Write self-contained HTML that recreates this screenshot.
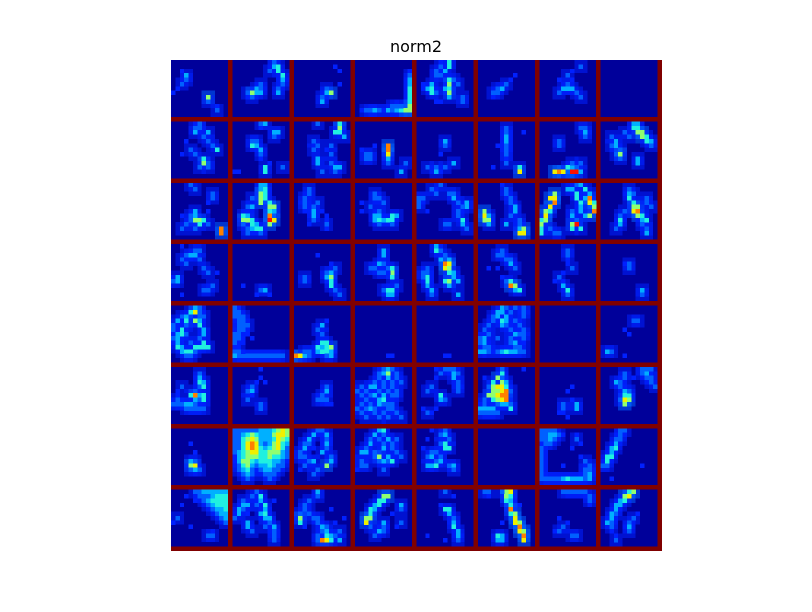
<!DOCTYPE html>
<html><head><meta charset="utf-8"><style>
html,body{margin:0;padding:0;background:#fff;width:812px;height:612px;overflow:hidden}
#title{position:absolute;left:0;width:832px;top:37px;text-align:center;font:16px "DejaVu Sans","Liberation Sans",sans-serif;color:#000}
#grid{position:absolute;left:171px;top:60px}
</style></head><body>
<div id="title">norm2</div>
<svg id="grid" width="491" height="491" viewBox="0 0 112 112" shape-rendering="crispEdges"></svg>
<script>
// Per-tile bright cells: "row,col,level" (level 0-9 on jet scale); unlisted cells are background.
const tileRows = 8;
const tileCols = 8;
const cellsPerTile = 13;
const levelColors = ["#00009a","#0000c8","#0020ff","#0060ff","#00b0ff","#20f0e0","#90ff70","#f0f000","#ff8000","#ff1000"];
const tiles = [
"3,3,4 4,3,3 5,2,3 6,1,2 8,8,6 9,8,3 10,10,2 11,10,3 2,2,2 7,0,2",
"0,9,3 1,9,4 1,10,5 2,10,5 3,11,5 4,11,4 2,8,3 5,6,3 6,5,4 6,6,3 7,3,3 7,4,6 7,5,4 7,6,4 8,4,3 8,3,2 6,10,3 7,10,4 5,11,3",
"1,9,2 2,10,2 6,7,3 7,7,4 7,8,6 8,6,3 9,6,4 5,10,2",
"11,1,2 11,2,3 11,3,3 11,4,4 11,5,3 11,6,2 11,7,4 11,8,3 11,9,4 11,10,5 11,11,6 10,8,3 10,9,3 10,10,3 3,12,3 4,12,4 5,12,4 6,12,5 7,12,5 8,12,5 9,12,5 10,12,6 11,12,6 2,12,2",
"0,7,5 1,7,5 2,6,4 3,5,3 4,7,5 5,7,6 6,6,4 6,7,5 7,7,6 8,7,4 5,3,4 6,3,5 7,3,5 6,2,4 7,4,3 4,8,3 5,9,3 8,10,3 9,10,3 1,5,3 2,4,3 3,4,3 0,5,2 5,1,2 6,1,2 9,4,2 9,5,2",
"5,6,3 6,4,3 6,5,4 7,3,3 7,4,3 8,3,2 4,7,2 3,8,2",
"1,9,3 2,7,2 3,6,3 4,7,2 5,6,3 6,5,4 6,6,4 6,7,4 7,4,3 7,8,3 8,9,3 4,4,2",
"",
"0,6,3 1,5,3 1,6,3 2,5,4 2,8,4 3,7,3 4,3,2 4,8,3 5,9,3 6,4,3 6,10,5 7,5,3 8,7,5 9,7,6 9,8,3 10,6,3 10,8,3 7,2,2",
"0,6,3 0,7,4 1,6,2 2,9,4 2,10,4 3,9,3 4,4,3 5,4,5 5,5,4 4,5,3 6,6,4 7,6,3 8,6,2 9,8,2 10,7,5 11,7,5 11,0,2 11,1,2 10,11,3",
"0,5,3 0,10,5 1,10,6 2,9,5 2,10,5 3,11,4 4,4,3 5,5,3 6,4,3 6,7,2 8,5,4 9,5,4 9,8,3 10,9,4 10,10,4 11,9,3 7,8,3 5,8,3 11,6,3",
"5,7,8 6,7,8 7,7,7 8,7,4 9,7,3 7,2,3 8,2,3 7,3,3 8,3,3 6,1,2 11,10,4 9,11,3 5,4,2",
"4,6,4 5,6,3 9,8,4 10,2,3 10,4,3 10,6,3 11,4,4 11,5,2 7,5,2",
"1,6,3 2,6,3 3,6,4 4,6,4 5,6,3 6,6,3 7,6,3 8,6,2 9,6,3 10,9,5 11,9,7 2,10,2 5,4,2 10,3,2",
"1,9,3 1,10,3 2,10,4 3,10,3 4,4,3 5,4,3 10,6,5 11,3,7 11,4,8 11,5,7 11,6,3 11,7,9 11,8,9 11,9,4 10,7,4 10,8,3 9,7,3 9,9,3",
"0,7,4 0,8,4 1,7,5 1,8,5 2,8,6 2,9,6 3,9,6 3,10,5 4,10,5 4,11,4 5,11,3 3,6,3 4,3,4 5,2,3 5,3,4 6,4,3 7,3,3 7,4,6 8,4,3 8,8,4 9,8,4 3,2,3 2,5,3",
"0,4,3 1,5,3 2,9,3 3,9,3 4,8,2 6,5,4 7,5,4 7,4,3 8,4,3 8,5,6 8,6,6 8,7,5 9,6,5 9,8,3 10,2,3 10,11,8 11,11,8 7,2,2 6,8,2 9,3,3 10,5,3",
"0,6,4 0,7,4 1,6,4 1,7,5 2,6,6 2,7,5 3,6,6 3,7,5 4,6,6 4,8,5 5,4,4 5,8,6 5,9,6 6,8,5 6,9,4 7,8,8 8,8,9 8,9,7 9,8,6 7,2,5 8,2,6 8,3,6 8,4,5 9,4,5 10,4,4 10,5,5 10,6,5 9,5,4 10,3,3 5,3,3 3,4,3 7,3,4 9,2,3 11,3,3 11,6,3",
"1,3,3 2,3,3 3,2,3 4,2,3 5,2,3 6,2,2 4,5,3 5,4,3 6,4,4 7,4,4 8,4,3 6,6,2 7,7,2 8,7,2 9,7,3 10,7,2 9,3,2",
"2,4,3 3,4,3 3,5,3 4,6,3 5,3,3 6,5,3 7,4,4 7,5,4 8,4,4 8,5,5 8,6,4 8,7,5 8,8,5 7,8,5 7,9,4 9,5,3 9,8,3 6,1,2 4,1,2",
"0,5,3 1,3,3 1,4,2 2,4,3 2,7,3 3,8,4 2,8,3 3,0,3 4,0,3 5,0,3 3,1,3 4,9,3 5,11,4 4,11,4 5,10,3 6,9,3 7,9,3 8,10,5 9,10,4 9,6,3 9,7,3 10,11,3 6,2,2",
"0,5,2 1,6,3 2,6,3 3,7,3 4,7,3 5,8,4 6,8,4 6,1,6 7,1,7 8,1,6 8,2,6 9,2,4 7,2,4 9,6,4 10,9,4 10,10,6 11,9,7 11,10,7 7,7,3 8,9,3 9,9,3",
"0,8,3 1,7,4 1,6,4 2,3,6 3,3,7 3,2,7 4,3,8 5,2,7 6,1,6 6,2,5 7,1,7 8,1,6 8,0,5 9,0,6 10,0,5 11,0,5 2,8,5 3,8,5 4,9,5 5,9,4 3,10,4 3,11,8 4,11,7 4,12,5 6,12,8 5,12,6 7,11,6 8,8,3 9,7,6 9,8,9 10,7,5 10,9,5 11,4,3 11,3,3 10,2,3 6,7,3 7,7,4 6,9,4 7,10,4 1,10,5 0,9,4 2,11,4",
"1,6,3 2,7,3 2,6,4 3,6,5 4,7,5 5,7,6 5,8,6 6,7,7 6,8,8 7,8,6 7,9,5 8,9,4 8,10,5 9,9,3 6,5,3 7,4,3 8,4,5 9,4,4 10,3,3 10,10,3 11,10,4 4,10,3 3,10,3 5,11,3",
"0,2,2 1,5,3 1,6,3 2,3,3 2,4,4 2,5,4 3,6,3 3,2,3 4,3,3 5,7,3 6,8,3 7,1,4 8,1,4 8,0,3 9,9,3 10,7,3 10,8,3 11,2,2 6,10,2",
"10,6,3 10,7,4 11,5,2 9,2,2 11,8,2",
"6,7,3 6,8,4 7,7,4 7,8,6 8,8,5 9,8,5 10,9,3 7,2,3 8,2,3 5,9,3 11,10,3 4,8,2 2,5,2",
"1,6,4 2,6,4 4,5,4 4,6,3 5,4,3 5,3,3 6,5,3 5,7,3 5,8,5 6,8,6 7,8,5 6,6,3 6,7,2 10,7,5 10,8,5 11,8,4 11,7,4 10,6,3 9,9,3",
"0,4,4 1,4,5 1,5,3 2,6,3 3,5,4 3,7,4 4,6,8 4,7,7 5,6,7 5,7,6 6,7,5 6,8,4 7,8,4 8,9,4 8,6,5 8,7,6 9,7,4 5,2,3 6,2,3 7,2,5 8,2,5 9,2,4 10,3,4 11,3,3 11,9,4 7,1,3 6,1,3",
"1,5,3 2,5,3 2,4,3 3,6,3 3,7,3 4,7,4 5,8,3 5,4,2 5,2,2 8,6,3 8,7,5 9,7,8 9,8,6 10,8,4 10,9,5 7,5,2",
"1,6,3 2,6,3 3,6,2 4,6,2 5,7,3 6,5,2 7,4,3 8,5,2 8,3,2 9,5,4 10,6,5 11,6,3",
"4,5,2 5,6,3 4,6,3 10,9,4 11,9,3",
"0,5,4 1,4,5 1,5,7 2,2,3 2,3,4 3,1,4 3,3,5 3,5,6 3,6,4 4,6,5 5,2,5 5,7,4 6,1,4 6,2,5 6,3,3 6,7,4 7,0,3 7,1,4 7,6,3 8,1,4 8,4,3 8,7,5 9,1,5 9,2,4 9,5,5 9,6,5 9,7,5 9,8,5 10,2,4 10,3,5 10,4,5 10,5,3 11,3,3 11,4,3 2,6,3 0,6,3 1,6,3 4,0,3 5,0,3 2,7,3 4,3,3",
"0,0,3 0,1,2 1,0,3 1,1,3 2,0,3 2,1,3 2,2,3 3,1,3 3,2,3 4,1,3 4,2,3 4,3,3 5,1,3 5,2,3 6,0,3 6,1,3 7,0,3 7,1,3 7,2,2 8,0,3 8,1,2 9,0,2 10,0,3 10,1,3 11,0,4 11,1,3 11,2,3 11,3,3 11,4,3 11,5,3 11,6,3 11,7,3 11,8,3 11,9,3 11,10,3 11,11,3 10,2,2 6,3,2 5,3,2 8,2,2 9,1,2 7,4,2",
"4,6,4 5,5,3 6,6,3 9,6,4 9,7,5 9,8,6 8,6,5 8,7,5 9,5,5 10,5,4 10,6,5 10,7,5 10,8,4 11,0,8 11,1,7 11,2,4 11,3,3 10,2,3 10,3,3 11,7,3 11,8,4 3,7,2",
"11,7,2 11,8,2",
"11,6,2 11,7,2",
"0,5,4 1,4,4 1,5,4 0,6,3 1,7,3 2,3,3 2,4,4 2,6,4 3,3,3 3,5,5 3,6,4 4,2,3 4,5,4 4,6,3 5,1,3 5,7,3 6,2,3 6,8,4 6,9,3 7,0,3 7,1,4 7,4,3 7,7,3 8,0,3 8,1,4 8,7,3 8,8,4 9,1,3 9,2,3 9,8,3 9,9,3 10,0,4 10,1,4 10,2,3 10,3,2 10,4,3 10,5,4 10,6,5 10,7,4 10,8,4 10,9,3 10,10,3 0,8,3 0,9,2 0,10,3 1,10,3 2,10,3 3,8,3 3,9,2 4,9,3 5,10,3 6,10,3 7,10,3 8,10,2",
"",
"3,7,3 3,8,3 5,5,2 6,6,2 10,1,4 10,2,3 11,5,2",
"1,6,3 2,6,4 3,6,5 3,7,4 4,2,3 4,6,3 4,7,5 5,1,2 5,5,3 6,4,5 6,5,8 6,6,4 6,7,5 7,5,4 7,6,3 7,7,5 8,0,3 8,1,3 8,2,3 8,3,4 8,4,4 8,5,3 9,3,3 9,4,3 9,5,3 9,6,3 9,7,3 7,1,3 7,2,2 6,1,2",
"3,5,2 4,4,3 5,4,4 5,3,3 6,4,2 7,3,3 8,6,3 9,6,3 2,6,2 3,7,2 0,6,2",
"4,7,3 5,7,4 6,6,3 7,5,3 7,6,3 7,7,3 8,7,2 8,8,2",
"0,6,3 0,7,4 0,8,3 1,6,4 1,7,6 1,5,3 2,5,3 2,7,4 3,4,3 3,6,3 3,8,3 4,1,3 4,3,4 4,4,4 4,6,3 4,8,3 5,0,3 5,2,3 5,5,3 5,7,3 5,9,3 6,1,3 6,3,3 6,4,4 6,6,4 6,8,3 6,9,3 7,2,3 7,5,4 7,6,5 8,1,3 8,3,3 8,5,4 8,6,3 8,7,3 8,8,3 9,0,3 9,2,3 9,3,4 9,4,3 9,7,3 9,8,3 10,1,3 10,4,3 10,6,3 10,9,3 11,2,3 11,5,3 11,7,3 11,10,3 2,9,3 3,10,3 1,9,3",
"0,4,2 0,6,3 0,7,3 0,8,3 1,5,3 1,8,4 1,9,3 2,8,4 3,9,3 2,4,2 4,3,3 4,9,3 5,9,3 6,5,5 7,5,4 7,6,3 9,4,2 10,2,3 10,3,2 9,1,2 5,2,3",
"0,5,3 1,5,5 2,4,6 3,5,6 4,5,7 4,3,6 4,4,7 3,3,5 5,3,6 5,4,6 5,5,7 5,6,8 6,2,6 6,3,6 6,4,7 6,5,8 6,6,8 7,3,5 7,4,6 7,5,7 7,6,8 8,4,3 8,5,4 8,6,4 8,7,3 9,0,4 9,1,4 9,2,4 9,3,4 9,7,5 10,0,3 10,1,3 10,2,3 10,3,3 10,4,3 4,2,3 2,5,3 3,6,4 4,6,5 5,7,3 0,10,2 2,1,2 8,1,3 7,1,3",
"4,7,2 5,6,2 8,5,3 9,5,3 8,8,4 9,8,4 10,4,2 10,5,2 11,6,2 7,7,2",
"0,9,3 0,10,3 0,11,3 1,9,3 1,10,4 2,10,3 2,11,3 3,11,3 4,12,3 1,5,3 2,5,3 3,3,4 3,4,3 4,4,3 5,5,4 6,5,5 7,5,7 7,6,6 8,5,6 6,6,5 5,6,3 7,4,3 2,7,2",
"3,4,2 5,5,2 7,4,4 8,4,6 8,5,7 9,5,4 9,6,3 9,4,3 7,5,3",
"0,0,3 0,1,3 0,2,3 0,3,3 0,4,3 0,5,3 0,6,4 0,7,4 0,8,4 0,9,5 0,10,6 0,11,7 0,12,6 1,0,3 1,1,3 1,2,4 1,3,5 1,4,6 1,5,5 1,6,4 1,7,4 1,8,4 1,9,6 1,10,7 1,11,7 1,12,6 2,0,3 2,1,3 2,2,5 2,3,6 2,4,7 2,5,6 2,6,4 2,7,4 2,8,4 2,9,5 2,10,7 2,11,6 2,12,5 3,0,3 3,1,3 3,2,5 3,3,7 3,4,8 3,5,7 3,6,4 3,7,3 3,8,4 3,9,6 3,10,7 3,11,5 3,12,4 4,0,3 4,1,3 4,2,5 4,3,7 4,4,8 4,5,7 4,6,5 4,7,4 4,8,5 4,9,6 4,10,7 4,11,5 4,12,3 5,0,3 5,1,4 5,2,5 5,3,6 5,4,7 5,5,7 5,6,5 5,7,5 5,8,6 5,9,6 5,10,6 5,11,4 5,12,3 6,0,2 6,1,4 6,2,5 6,3,6 6,4,6 6,5,6 6,6,5 6,7,5 6,8,6 6,9,5 6,10,5 6,11,4 6,12,3 7,0,2 7,1,4 7,2,6 7,3,6 7,4,5 7,5,4 7,6,5 7,7,5 7,8,5 7,9,4 7,10,4 7,11,3 8,1,3 8,2,5 8,3,6 8,4,4 8,5,3 8,6,4 8,7,4 8,8,5 8,9,4 8,10,3 8,11,3 9,1,3 9,2,4 9,3,5 9,4,3 9,6,3 9,7,4 9,8,4 9,9,3 9,10,3 10,2,3 10,3,4 10,4,3 10,7,3 10,8,3 10,9,3 11,3,3 11,8,3 11,9,2",
"0,5,3 0,6,3 1,4,4 1,7,4 2,3,4 2,7,3 3,2,3 3,3,3 3,7,4 4,2,4 4,7,3 5,1,3 5,6,4 6,1,3 6,2,3 6,8,3 7,3,3 7,4,4 7,8,4 8,2,3 8,7,6 9,1,2 9,5,3 10,4,3 4,4,2",
"0,5,4 0,6,5 1,4,4 1,6,3 2,3,3 2,5,3 2,7,4 3,3,4 3,6,3 4,2,3 4,6,4 4,8,3 5,1,4 5,2,4 5,4,3 6,4,3 6,5,6 6,7,4 7,1,3 7,5,3 7,6,4 7,7,3 7,8,5 8,1,3 8,2,3 9,0,2 9,6,3 3,8,3 2,9,3 5,9,3 6,10,3",
"0,6,3 1,6,4 1,5,3 2,7,3 3,5,3 3,6,5 4,6,5 4,7,5 5,3,3 5,4,3 6,2,3 6,3,4 6,5,3 7,4,3 7,5,4 8,2,4 8,3,4 8,4,5 8,7,3 8,8,4 9,8,3 2,2,2 4,1,2 0,3,2",
"",
"0,0,3 0,1,3 0,2,3 0,3,3 1,0,3 1,1,3 1,2,4 1,3,4 1,4,3 2,0,3 2,1,3 2,2,4 2,3,3 3,0,2 3,1,3 3,2,3 4,0,3 5,0,3 6,0,3 7,0,3 8,0,3 9,0,3 10,0,3 11,0,3 11,1,3 11,2,3 11,3,3 11,4,3 11,5,4 11,6,5 11,7,4 11,8,4 11,9,4 11,10,3 11,11,4 10,11,4 9,11,3 8,11,3 7,10,3 6,9,2 3,9,2 2,8,3 1,8,2 4,7,2 8,5,2 10,10,3 9,10,3 1,5,2",
"0,4,3 0,5,3 1,4,3 2,3,3 2,4,3 3,3,4 4,2,4 4,3,5 5,2,4 6,1,5 6,2,5 7,1,5 8,0,3 8,1,3 11,2,2 8,9,2",
"0,5,3 0,6,3 0,7,4 0,8,4 0,9,4 0,10,4 0,11,4 0,12,4 1,6,3 1,7,3 1,8,3 1,9,4 1,10,5 1,11,5 1,12,5 2,7,3 2,8,4 2,9,5 2,10,5 2,11,5 2,12,5 3,8,3 3,9,4 3,10,5 3,11,5 3,12,5 4,9,3 4,10,4 4,11,4 4,12,5 5,10,3 5,11,4 5,12,4 6,11,3 6,12,4 7,12,3 1,3,2 3,2,2 6,1,3 7,0,2 10,9,3 10,8,3 9,9,2 8,4,2 2,5,2",
"0,5,3 1,4,3 1,6,5 2,6,4 2,2,3 3,2,4 3,3,4 3,5,3 3,7,5 4,1,4 4,2,3 4,7,4 5,1,4 5,6,4 5,7,5 6,0,3 6,7,4 6,8,4 7,3,4 7,8,3 8,3,4 8,7,3 8,9,4 9,9,3 10,9,3 11,9,3 9,4,3 5,3,2 2,9,2",
"0,5,4 1,5,3 2,3,3 3,2,3 4,2,3 5,1,3 5,3,3 6,1,6 7,1,5 6,4,3 6,5,3 7,5,3 8,6,4 8,7,3 9,6,3 9,7,4 10,7,5 10,8,4 11,7,7 11,6,8 11,8,5 11,5,3 10,5,3 8,2,2 10,9,3 9,10,3 11,10,4 7,9,2 6,11,2 4,8,2",
"1,6,6 1,7,6 2,5,5 2,6,5 3,4,4 3,5,5 4,3,5 4,4,4 5,3,5 6,3,6 6,2,6 7,2,7 8,3,3 8,6,3 7,6,4 9,5,4 9,6,3 10,4,3 3,10,4 4,10,3 5,8,2 8,9,2 7,10,3",
"0,6,3 4,6,5 4,7,5 5,7,4 6,8,3 7,8,4 8,8,5 9,9,4 10,9,4 11,9,3 1,8,2 3,5,2 10,2,2 11,6,2",
"0,6,6 0,7,7 1,6,6 1,7,5 2,6,5 2,7,4 3,7,5 4,7,8 5,8,6 5,7,5 6,8,7 7,8,7 7,9,6 8,9,8 9,9,7 9,10,6 10,10,8 11,10,7 10,4,5 11,4,4 11,5,4 10,5,4 0,1,3 0,2,3 1,2,2 0,5,3 7,5,2 3,9,2",
"0,5,3 0,6,3 0,7,3 0,8,3 0,9,3 0,10,3 1,11,3 2,11,3 3,11,2 8,5,3 9,4,3 10,8,3 10,7,3 9,3,2 6,4,2 7,6,2",
"0,6,5 0,7,6 1,5,6 1,6,7 2,4,4 2,5,5 3,3,4 3,4,4 4,3,4 5,2,4 5,3,3 6,2,4 7,1,4 7,2,3 8,2,3 6,7,3 7,6,3 8,6,4 9,6,3 5,8,2 10,3,2 11,3,3 9,2,2"
];

const svg = document.getElementById('grid');
const NS = 'http://www.w3.org/2000/svg';
const period = cellsPerTile + 1;
const bg = document.createElementNS(NS, 'rect');
bg.setAttribute('x', 0); bg.setAttribute('y', 0);
bg.setAttribute('width', tileCols * period); bg.setAttribute('height', tileRows * period);
bg.setAttribute('fill', '#800000');


svg.appendChild(bg);
tiles.forEach((spec, i) => {
  const tr = Math.floor(i / tileCols), tc = i % tileCols;
  const g = document.createElementNS(NS, 'g');
  
  
  g.setAttribute('transform', `translate(${tc * period},${tr * period})`);
  const base = document.createElementNS(NS, 'rect');
  base.setAttribute('width', cellsPerTile); base.setAttribute('height', cellsPerTile);
  base.setAttribute('fill', levelColors[0]);
  g.appendChild(base);
  const spots = spec.split(' ').filter(s => s).map(s => s.split(',').map(Number));
  // soft halo layer so activations read as blobs like the original feature maps
  const halo = document.createElementNS(NS, 'g');
  
  
  g.appendChild(halo);
  spots.forEach(([r, c, l]) => {
    if (l < 3) return;
    const h = document.createElementNS(NS, 'rect');
    const x0 = Math.max(0, c - 1), y0 = Math.max(0, r - 1);
    h.setAttribute('x', x0); h.setAttribute('y', y0);
    h.setAttribute('width', Math.min(cellsPerTile, c + 2) - x0);
    h.setAttribute('height', Math.min(cellsPerTile, r + 2) - y0);
    h.setAttribute('fill', levelColors[l >= 6 ? 3 : 2]);
    h.setAttribute('opacity', '0.55');
    halo.appendChild(h);
  });
  spots.forEach(([r, c, l]) => {
    const cell = document.createElementNS(NS, 'rect');
    
    
    cell.setAttribute('x', c); cell.setAttribute('y', r);
    cell.setAttribute('width', 1.02); cell.setAttribute('height', 1.02);
    cell.setAttribute('fill', levelColors[l]);
    g.appendChild(cell);
  });
  svg.appendChild(g);
});
</script>
</body></html>
